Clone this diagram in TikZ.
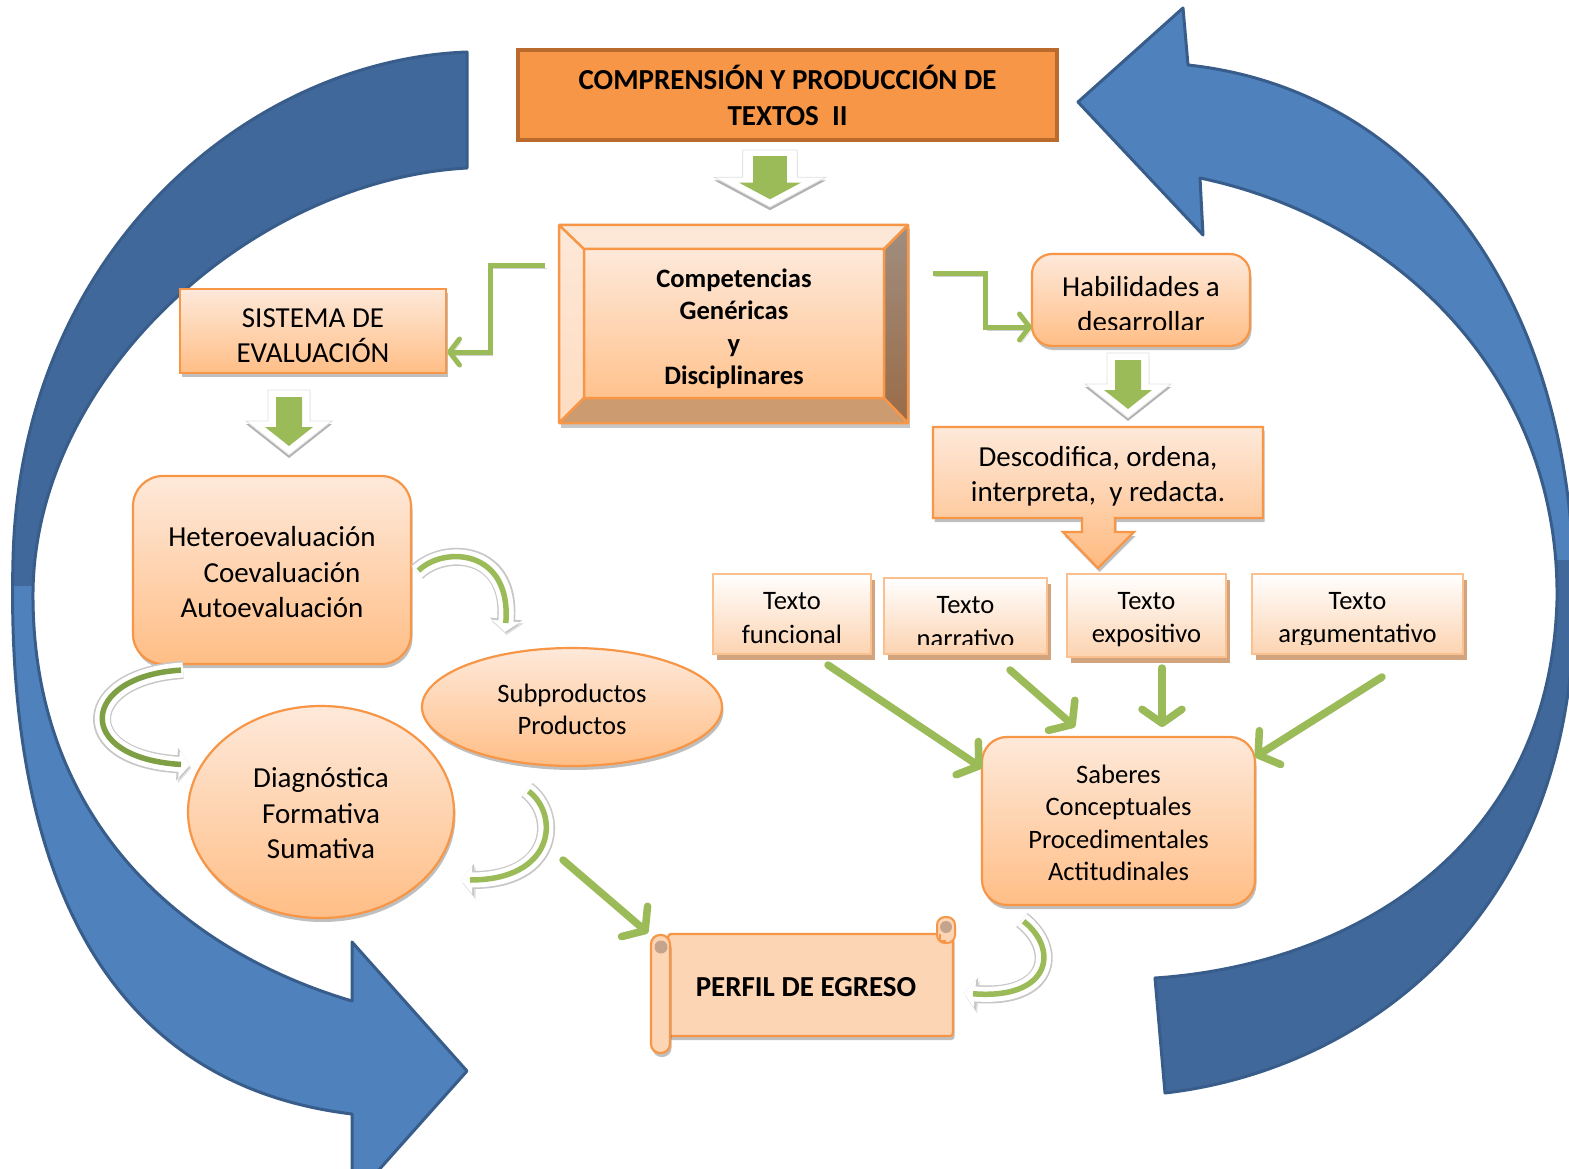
\documentclass[tikz,border=0pt]{standalone}
\usepackage{fontspec}
\setmainfont{Carlito}
\usetikzlibrary{shapes.geometric, arrows.meta, shadows, calc}
\definecolor{orng}{HTML}{F79646}
\definecolor{ptop}{HTML}{FEE9DA}
\definecolor{pbot}{HTML}{FFBE86}
\definecolor{ttlb}{HTML}{B96A2C}
\definecolor{gr}{HTML}{9BBB59}
\definecolor{grd}{HTML}{7F9F45}
\definecolor{bluL}{HTML}{4F81BD}
\definecolor{bluD}{HTML}{41689A}
\definecolor{bluO}{HTML}{385D8A}
\definecolor{tbrd}{HTML}{FAC090}
\definecolor{tbot}{HTML}{FCD3B0}
\definecolor{tshd}{HTML}{D2A47E}
\definecolor{scrl}{HTML}{FCD5B4}
\definecolor{rollc}{HTML}{C4A48C}
\definecolor{bevR1}{HTML}{A08E80}
\definecolor{bevR2}{HTML}{9A6B47}
\definecolor{bevB}{HTML}{CC9B70}
\definecolor{bevT}{HTML}{FDE8D8}
\definecolor{faceB}{HTML}{FFC28D}
\newcommand{\blkdown}[2]{%
  \begin{scope}[shift={#1},#2]
    \path[fill=white, draw=black!12, line width=0.8pt,
      drop shadow={shadow xshift=0pt, shadow yshift=-3pt, opacity=.3, fill=black}]
      (-21,0) -- (21,0) -- (21,31) -- (43,31) -- (0,65) -- (-43,31) -- (-21,31) -- cycle;
    \fill[gr] (-13,7) -- (13,7) -- (13,37) -- (24,37) -- (0,56) -- (-24,37) -- (-13,37) -- cycle;
  \end{scope}}
\def\LApath{(467,52) .. controls (250,60) and (20,250) .. (13,560) .. controls (5,880) and (110,1085) .. (352,1114) -- (352,1200) -- (467,1071) -- (352,942) -- (352,1001) .. controls (180,950) and (35,820) .. (33,600) .. controls (30,380) and (250,180) .. (467,168) -- cycle}
\def\RApath{(1078,102) -- (1183,8) -- (1188,65) .. controls (1420,90) and (1575,300) .. (1574,600) .. controls (1576,915) and (1365,1070) .. (1165,1093) -- (1155,978) .. controls (1350,965) and (1550,850) .. (1557,600) .. controls (1560,380) and (1400,220) .. (1200,178) -- (1203,235) -- cycle}
\begin{document}
\begin{tikzpicture}[x=1pt,y=-1pt,
  every node/.style={inner sep=0pt, outer sep=0pt, align=center, text=black},
  shad/.style={drop shadow={shadow xshift=1.5pt, shadow yshift=-4pt, opacity=.25, fill=black}},
  peach/.style={draw=orng, line width=2.2pt, top color=ptop, bottom color=pbot, shad},
  fA/.style={font=\fontsize{29}{35.5}\selectfont},
  fB/.style={font=\fontsize{26.6}{32.5}\selectfont},
  fT/.style={font=\fontsize{26.6}{33.5}\selectfont},
  texto/.style={rectangle, draw=tbrd, line width=2pt, top color=white, bottom color=tbot,
    drop shadow={shadow xshift=4pt, shadow yshift=-6pt, opacity=1, fill=tshd}},
  garrow/.style={draw=gr, line width=7.5pt, line cap=round, line join=round,
    -{Straight Barb[length=14pt, width=40pt, round]},
    preaction={draw=black, opacity=.18, transform canvas={xshift=2pt, yshift=-3pt}}},
  gel/.style={draw=gr, line width=5pt, line join=miter,
    -{Straight Barb[length=10pt, width=26pt, round]},
    preaction={draw=black, opacity=.18, transform canvas={xshift=2pt, yshift=-3pt}}},
  cwo/.style={draw=black!22, line width=18pt, -{Triangle[length=13pt, width=32pt]},
    preaction={draw=black, opacity=.12, transform canvas={xshift=1.5pt, yshift=-3pt}}},
  cw/.style={draw=white, line width=15pt, -{Triangle[length=11pt, width=27pt]}},
  cg/.style={draw=gr, line width=5.5pt, shorten >=9pt, shorten <=2pt},
]
\useasboundingbox (0,0) rectangle (1569,1169);
\fill[white] (0,0) rectangle (1569,1169);
\begin{scope}
\clip (0,0) rectangle (1569,1169);

% ---- blue circular arrows
\fill[bluL] \LApath;
\begin{scope}\clip (0,0) rectangle (800,585); \fill[bluD] \LApath; \end{scope}
\draw[bluO, line width=3pt, line join=round] \LApath;
\fill[bluL] \RApath;
\begin{scope}\clip (800,560) rectangle (1600,1169); \fill[bluD] \RApath; \end{scope}
\draw[bluO, line width=3pt, line join=round] \RApath;

% ---- title
\node[draw=ttlb, fill=orng, line width=4pt, minimum width=539pt, minimum height=90pt,
  font=\bfseries\fontsize{29}{36}\selectfont] (title) at (787.5,95)
  {COMPRENSIÓN Y PRODUCCIÓN DE\\TEXTOS\ \ II};
\blkdown{(770,150)}{xscale=1.3, yscale=0.88}

% ---- competencias (bevel)
\fill[black, opacity=.22] (561,229) rectangle (910,428);
\fill[bevT] (559,225) -- (908,225) -- (884,249) -- (584,249) -- cycle;
\shade[top color=bevT, bottom color=ptop!70!pbot] (559,225) -- (584,249) -- (584,398) -- (559,423) -- cycle;
\shade[top color=bevR1, bottom color=bevR2] (908,225) -- (908,423) -- (884,398) -- (884,249) -- cycle;
\fill[bevB] (559,423) -- (584,398) -- (884,398) -- (908,423) -- cycle;
\shade[top color=ptop, bottom color=faceB] (584,249) rectangle (884,398);
\draw[orng, line width=2.5pt, line join=round] (559,225) rectangle (908,423)
  (584,249) rectangle (884,398)
  (559,225) -- (584,249) (908,225) -- (884,249) (559,423) -- (584,398) (908,423) -- (884,398);
\node[minimum width=349pt, minimum height=198pt] (comp) at (733.5,324) {};
\node[font=\bfseries\fontsize{26.6}{32.5}\selectfont] (compT) at (734,329)
  {Competencias\\Genéricas\\y\\Disciplinares};

% ---- left branch
\node[peach, rectangle, minimum width=266pt, minimum height=84pt] (sist) at (313,331) {};
\begin{scope}\clip (150,280) rectangle (480,363);
\node[fA] (sistT) at (313,335.5) {SISTEMA DE\\EVALUACIÓN};
\end{scope}
\blkdown{(289,390)}{}
\node[peach, rectangle, rounded corners=30pt, minimum width=278pt, minimum height=188pt]
  (hetero) at (272,570) {};
\node[fA] (heteroT) at (272,572.5) {Heteroevaluación\\\hspace*{20pt}Coevaluación\\Autoevaluación};
\node[peach, ellipse, minimum width=266pt, minimum height=212pt] (diag) at (321,812) {};
\node[fA] (diagT) at (321,813.5) {Diagnóstica\\Formativa\\Sumativa};
\node[peach, ellipse, minimum width=300pt, minimum height=118pt] (subp) at (572,707) {};
\node[fB] (subpT) at (572,709.5) {Subproductos\\Productos};

% ---- right branch
\node[peach, rectangle, rounded corners=20pt, minimum width=218pt, minimum height=92pt]
  (hab) at (1141,300) {};
\begin{scope}\clip (1030,250) rectangle (1252,329.5);
\node[fA] (habT) at (1141,304) {Habilidades a\\desarrollar};
\end{scope}
\blkdown{(1128,353)}{}
\shade[top color=ptop, bottom color=pbot!90!orng, draw=orng, line width=2.2pt, shad]
  (933,427) -- (1263,427) -- (1263,518) -- (1115,518) -- (1115,532) -- (1134,532) -- (1098,568)
  -- (1063,532) -- (1082,532) -- (1082,518) -- (933,518) -- cycle;
\node[minimum width=330pt, minimum height=91pt] (desc) at (1098,472) {};
\node[fA] (descT) at (1098,476.5) {Descodifica, ordena,\\interpreta,\ \ y redacta.};
\node[texto, minimum width=158pt, minimum height=80pt] (tfun) at (792,614) {};
\node[texto, minimum width=163pt, minimum height=76pt] (tnar) at (965.5,616) {};
\node[texto, minimum width=159pt, minimum height=83pt] (texp) at (1146.5,615.5) {};
\node[texto, minimum width=211pt, minimum height=80pt] (targ) at (1357.5,614) {};
\begin{scope}\clip (700,560) rectangle (1500,644.5);
\node[fT] (tfunT) at (792,618) {Texto\\funcional};
\node[fT] (tnarT) at (965.5,622) {Texto\\narrativo};
\node[fT] (targT) at (1357.5,619.5) {Texto\\argumentativo};
\end{scope}
\node[fT] (texpT) at (1146.5,619.5) {Texto\\expositivo};
\node[peach, rectangle, rounded corners=25pt, minimum width=273pt, minimum height=168pt]
  (sab) at (1118.5,821) {};
\node[fB] (sabT) at (1118.5,823) {Saberes\\Conceptuales\\Procedimentales\\Actitudinales};

% ---- perfil scroll
\draw[orng, line width=2.2pt, fill=scrl, rounded corners=3pt, shad] (668,934) rectangle (953,1036);
\draw[orng, line width=2pt, fill=scrl, rounded corners=8pt] (937,917) rectangle (955,943);
\fill[rollc] (946,927) circle (6);
\draw[orng, line width=1.5pt] (940,934) -- (940,941) -- (946,941);
\draw[orng, line width=2.2pt, fill=scrl, rounded corners=9pt, shad] (651,935) rectangle (670,1053);
\fill[rollc] (661,947) circle (6.5);
\node[minimum width=302pt, minimum height=119pt] (perfil) at (803,985) {};
\node[font=\bfseries\fontsize{29}{35}\selectfont] (perfilT) at (806,987) {PERFIL DE EGRESO};

% ---- elbow connectors
\coordinate (e1s) at (545,265); \coordinate (e1m) at (490,352); \coordinate (e1e) at (447,352);
\draw[gel] (e1s) -| (e1m) -- (e1e);
\coordinate (e2s) at (933,273); \coordinate (e2m) at (985,327); \coordinate (e2e) at (1032,327);
\draw[gel] (e2s) -| (e2m) -- (e2e);

% ---- straight green arrows
\coordinate (s1) at (563,860); \coordinate (t1) at (648,933);
\coordinate (s2) at (828,665); \coordinate (t2) at (982,768);
\coordinate (s3) at (1010,670); \coordinate (t3) at (1075,727);
\coordinate (s4) at (1162,668); \coordinate (t4) at (1162,727);
\coordinate (s5) at (1382,677); \coordinate (t5) at (1255,757);
\draw[garrow] (s1) -- (t1);
\draw[garrow] (s2) -- (t2);
\draw[garrow] (s3) -- (t3);
\draw[garrow] (s4) -- (t4);
\draw[garrow] (s5) -- (t5);

% ---- curved arrows
\coordinate (c1s) at (417,572); \coordinate (c1e) at (505,632);
\draw[cwo] (c1s) .. controls (445,545) and (512,550) .. (c1e);
\draw[cw] (c1s) .. controls (445,545) and (512,550) .. (c1e);
\draw[cg] (c1s) .. controls (445,545) and (512,550) .. (c1e);
\coordinate (c2s) at (183,670); \coordinate (c2e) at (190,765);
\draw[cwo] (c2s) .. controls (80,676) and (72,758) .. (c2e);
\draw[cw] (c2s) .. controls (80,676) and (72,758) .. (c2e);
\draw[cg, draw=grd] (c2s) .. controls (80,676) and (72,758) .. (c2e);
\coordinate (c3s) at (527,790); \coordinate (c3e) at (461,880);
\draw[cwo] (c3s) .. controls (560,815) and (555,880) .. (c3e);
\draw[cw] (c3s) .. controls (560,815) and (555,880) .. (c3e);
\draw[cg] (c3s) .. controls (560,815) and (555,880) .. (c3e);
\coordinate (c4s) at (1022,920); \coordinate (c4e) at (964,993);
\draw[cwo] (c4s) .. controls (1060,950) and (1050,1000) .. (c4e);
\draw[cw] (c4s) .. controls (1060,950) and (1050,1000) .. (c4e);
\draw[cg] (c4s) .. controls (1060,950) and (1050,1000) .. (c4e);
\end{scope}
\end{tikzpicture}
\end{document}
